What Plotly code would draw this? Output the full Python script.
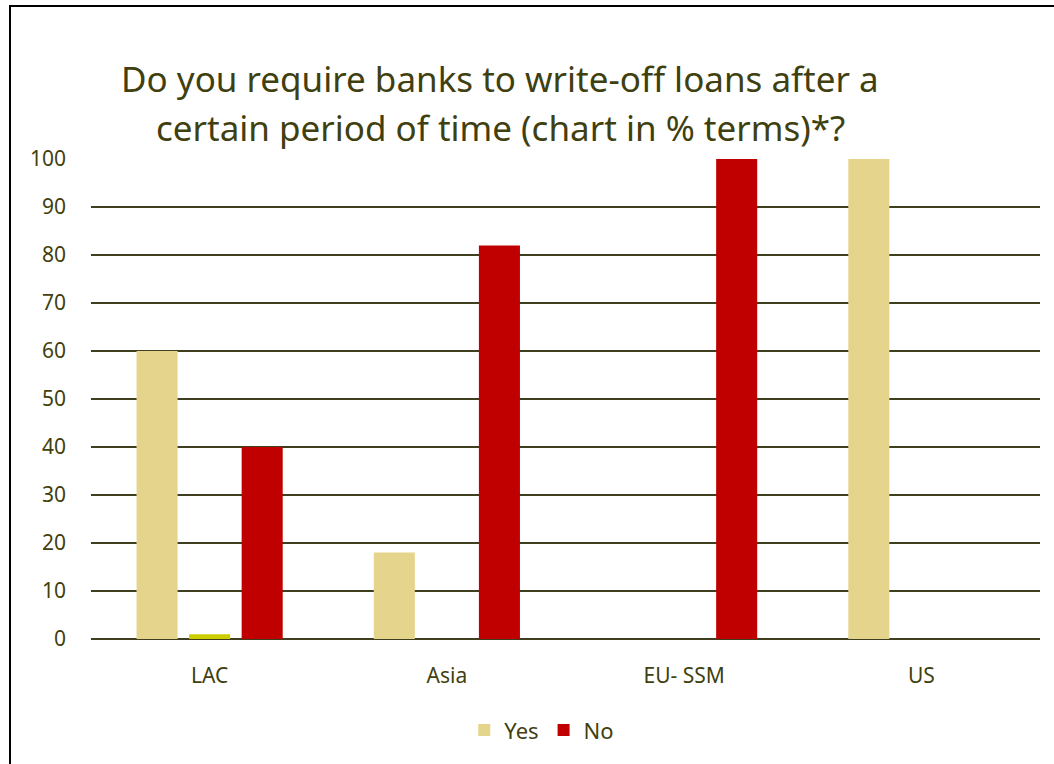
import plotly.graph_objects as go

categories = ["LAC", "Asia", "EU- SSM", "US"]
yes_values = [60, 18, 0, 100]
other_values = [1, 0, 0, 0]
no_values = [40, 82, 100, 0]
y_ticks = [0, 10, 20, 30, 40, 50, 60, 70, 80, 90, 100]
title_lines = ["Do you require banks to write-off loans after a",
               "certain period of time (chart in % terms)*?"]

text_color = "#3F3F0F"
grid_color = "#3F3F1F"
font_family = "Noto Sans, Open Sans, sans-serif"

bar_w = 0.173
spacing = 0.2215

fig = go.Figure()
fig.add_trace(go.Bar(name="Yes", x=categories, y=yes_values, width=bar_w,
                     offset=-spacing - bar_w / 2, marker_color="#E5D58C",
                     marker_line_width=0))
fig.add_trace(go.Bar(name="Other", x=categories, y=other_values, width=bar_w,
                     offset=-bar_w / 2, marker_color="#CCCC00",
                     marker_line_width=0, showlegend=False))
fig.add_trace(go.Bar(name="No", x=categories, y=no_values, width=bar_w,
                     offset=spacing - bar_w / 2, marker_color="#C00000",
                     marker_line_width=0))

title_annotations = []
for line, ypx in zip(title_lines, [79, 127]):
    title_annotations.append(dict(
        text=line, xref="paper", yref="paper", x=(500 - 91) / 949, y=(639 - ypx) / 480,
        xanchor="center", yanchor="middle", showarrow=False,
        font=dict(size=35, color=text_color, family=font_family)))

fig.update_layout(
    width=1054, height=764,
    margin=dict(l=91, r=14, t=159, b=125),
    paper_bgcolor="white", plot_bgcolor="white",
    barmode="overlay",
    font=dict(family=font_family, color=text_color, size=21),
    showlegend=True,
    legend=dict(orientation="h", x=0.475, xanchor="center", y=-0.19, yanchor="middle",
                font=dict(size=22, color=text_color), itemwidth=30, traceorder="normal"),
    annotations=title_annotations,
    shapes=[dict(type="rect", xref="paper", yref="paper",
                 x0=(10 - 91) / 949, x1=(1070 - 91) / 949,
                 y0=(639 - 780) / 480, y1=(639 - 6) / 480,
                 line=dict(color="black", width=2), fillcolor="rgba(0,0,0,0)", layer="below")],
)
fig.update_yaxes(range=[0, 100], tickvals=y_ticks, showgrid=True, gridcolor=grid_color,
                 gridwidth=1.5, zeroline=True, zerolinecolor=grid_color, zerolinewidth=1.5,
                 showline=False, ticks="", ticklabelstandoff=24,
                 tickfont=dict(size=21, color=text_color))
fig.update_xaxes(showgrid=False, showline=False, ticks="", ticklabelstandoff=22,
                 tickfont=dict(size=21, color=text_color))

fig.write_html("out.html")
